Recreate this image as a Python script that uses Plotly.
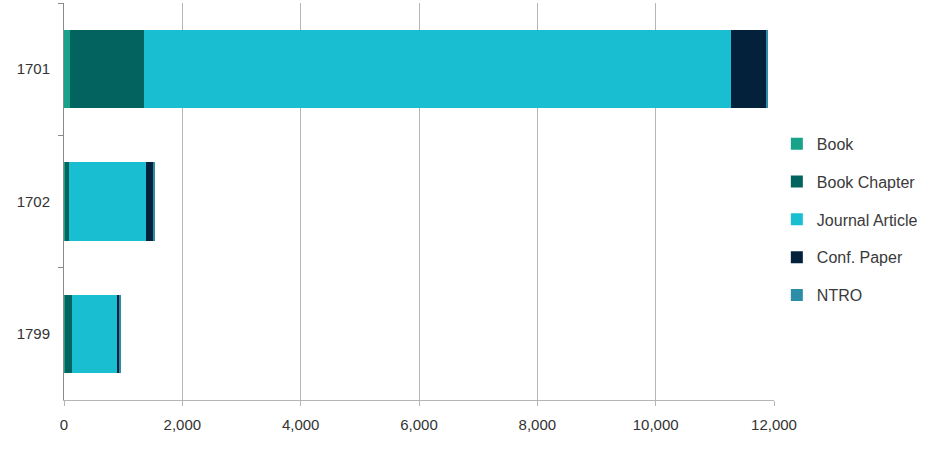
import plotly.graph_objects as go

# fields of research codes, top to bottom
codes = ["1701", "1702", "1799"]

# output counts by type
book = [100, 10, 10]
book_chapter = [1250, 75, 125]
journal_article = [9920, 1295, 760]
conf_paper = [590, 140, 50]
ntro = [45, 15, 10]

series = [
    ("Book", book, "#17a289"),
    ("Book Chapter", book_chapter, "#03645f"),
    ("Journal Article", journal_article, "#19bfd1"),
    ("Conf. Paper", conf_paper, "#03213a"),
    ("NTRO", ntro, "#2b8da7"),
]

fig = go.Figure()
for name, vals, col in series:
    fig.add_trace(go.Bar(
        y=codes, x=vals, name=name, orientation="h",
        marker=dict(color=col, line=dict(width=0)),
        legendgroup=name,
    ))

fig.update_layout(
    width=945, height=460,
    barmode="stack",
    bargap=0.41,
    plot_bgcolor="white",
    paper_bgcolor="white",
    font=dict(family="Liberation Sans, Arial, sans-serif", size=15, color="#333333"),
    margin=dict(l=64, r=171, t=3, b=60),
    legend=dict(
        x=1.004, xanchor="left", y=0.455, yanchor="middle",
        traceorder="grouped", tracegroupgap=14,
        font=dict(size=16, color="#3a3a3a"),
        itemwidth=30,
    ),
    showlegend=True,
)

fig.update_xaxes(
    range=[0, 12000], dtick=2000, tickformat=",d",
    showgrid=True, gridcolor="#b5b5b5", gridwidth=1,
    showline=True, linecolor="#b5b5b5", linewidth=1,
    ticks="outside", ticklen=5, tickcolor="#b5b5b5",
    ticklabelstandoff=6,
    zeroline=False,
)
fig.update_yaxes(
    type="category", autorange="reversed",
    showgrid=False,
    showline=True, linecolor="#8a8a8a", linewidth=1,
    ticks="outside", ticklen=5, tickcolor="#8a8a8a", tickson="boundaries",
    ticklabelstandoff=10,
)

# drop the default page margin so the chart sits at the window corner
fig.write_html("out.html", config={"displayModeBar": False},
               post_script="document.body.style.margin='0';")
